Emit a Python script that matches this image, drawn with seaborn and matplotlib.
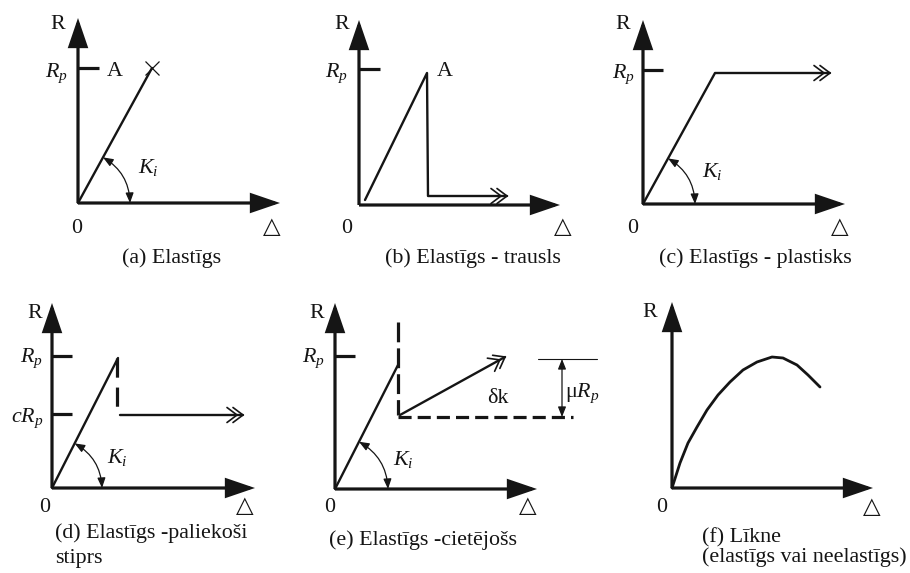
import numpy as np
import matplotlib
matplotlib.use("Agg")
import matplotlib.pyplot as plt
from matplotlib.patches import FancyArrowPatch
import seaborn as sns
import pandas as pd

sns.set_theme(style="white")
plt.rcParams["font.family"] = ["Liberation Serif", "DejaVu Sans"]
plt.rcParams["mathtext.fontset"] = "custom"
plt.rcParams["mathtext.rm"] = "Liberation Serif"
plt.rcParams["mathtext.it"] = "Liberation Serif:italic"

# ---------------- data (schematic units, origin = 0) ----------------
captions = ["(a) Elastīgs", "(b) Elastīgs - trausls", "(c) Elastīgs - plastisks",
            "(d) Elastīgs -paliekoši\nstiprs", "(e) Elastīgs -cietējošs",
            "(f) Līkne\n(elastīgs vai neelastīgs)"]

a_line_x = [0, 74]
a_line_y = [0, 135]
a_Rp = 135

b_line_x = [6, 68, 69, 148]
b_line_y = [5, 132, 9, 9]
b_Rp = 136

c_line_x = [0, 72, 187]
c_line_y = [0, 131, 131]
c_Rp = 134

d_line_x = [0, 66]
d_line_y = [0, 130]
d_drop_x = [65, 65]
d_drop_y = [130, 81]
d_res_x = [68, 191]
d_res_y = [73, 73]
d_Rp = 132
d_cRp = 74

e_line_x = [0, 63]
e_line_y = [0, 124]
e_vdash_x = [63, 63]
e_vdash_y = [167, 74]
e_hdash_x = [63, 238]
e_hdash_y = [72, 72]
e_hard_x = [65, 170]
e_hard_y = [74, 132]
e_Rp = 133
e_mu_top = 130
e_mu_bottom = 72

f_curve_x = [0, 8, 16, 25, 35, 46, 58, 71, 85, 100, 111, 125, 136, 148]
f_curve_y = [0, 25, 45, 61, 78, 93, 106, 118, 126, 131, 130, 123, 113, 101]

# ---------------- layout ----------------
W, H = 910, 573
fig = plt.figure(figsize=(W / 100, H / 100), dpi=100)
INK = "#151515"
AX_LW = 2.3
LN_LW = 1.7
TXT = 15.8

origins = [(78, 203), (359, 205), (643, 204), (52, 488), (335, 489), (672, 488)]
x_len = [202, 201, 202, 203, 202, 201]
y_len = [185, 185, 184, 185, 186, 186]


def make_ax(ox, oy):
    L, R, T, B = 80, 240, 200, 85
    ax = fig.add_axes([(ox - L) / W, (H - (oy + B)) / H, (L + R) / W, (T + B) / H])
    ax.set_xlim(-L, R)
    ax.set_ylim(-B, T)
    ax.set_axis_off()
    ax.patch.set_visible(False)
    return ax


def axes_arrows(ax, xl, yl):
    for tip in [(xl, 0), (0, yl)]:
        ar = FancyArrowPatch((0, 0), tip, arrowstyle="-|>,head_length=17,head_width=5.8",
                             mutation_scale=1, lw=AX_LW, color=INK,
                             shrinkA=0, shrinkB=0, joinstyle="miter", capstyle="butt")
        ar.set_clip_on(False)
        ax.add_patch(ar)


def line(ax, xs, ys, **kw):
    df = pd.DataFrame({"x": xs, "y": ys})
    kw.setdefault("lw", LN_LW)
    kw.setdefault("color", INK)
    sns.lineplot(data=df, x="x", y="y", ax=ax, sort=False, estimator=None,
                 legend=False, **kw)


def chevrons(ax, x0, y0, x1, y1):
    d = np.array([x1 - x0, y1 - y0], float)
    d /= np.linalg.norm(d)
    n = np.array([-d[1], d[0]])
    tip0 = np.array([x1, y1], float)
    for k in (0, 6):
        tip = tip0 - k * d
        p1 = tip - 10 * d + 7.5 * n
        p2 = tip - 10 * d - 7.5 * n
        ax.plot([p1[0], tip[0], p2[0]], [p1[1], tip[1], p2[1]], color=INK,
                lw=1.2, solid_joinstyle="miter", clip_on=False)


def tick(ax, yv, length=21):
    ax.plot([0, length], [yv, yv], color=INK, lw=AX_LW, solid_capstyle="butt", clip_on=False)


def ki_arc(ax, lx, ly, r):
    ang = np.arctan2(ly, lx)
    p_a = (r * np.cos(ang), r * np.sin(ang))
    p_b = (r, 0)
    ar = FancyArrowPatch(p_a, p_b, connectionstyle="arc3,rad=-0.27",
                         arrowstyle="<|-|>,head_length=6,head_width=2.4",
                         mutation_scale=1, lw=0.9, color=INK, shrinkA=0, shrinkB=0)
    ax.add_patch(ar)


def txt(ax, x, y, s, ha="center", va="baseline", size=TXT, **kw):
    ax.text(x, y, s, ha=ha, va=va, fontsize=size, color=INK, clip_on=False, **kw)


def delta(ax, x, y):
    ax.text(x, y, "△", ha="center", va="baseline", fontsize=16.5, color=INK,
            family=["DejaVu Sans"], clip_on=False)


axs = [make_ax(ox, oy) for ox, oy in origins]
for ax, xl, yl in zip(axs, x_len, y_len):
    axes_arrows(ax, xl, yl)

# (a)
ax = axs[0]
line(ax, a_line_x, a_line_y)
ax.plot(a_line_x[-1], a_line_y[-1], marker="x", ms=10, mew=0.9, color=INK, clip_on=False)
tick(ax, a_Rp)
ki_arc(ax, a_line_x[-1], a_line_y[-1], 52)
txt(ax, -20, 174, "R")
txt(ax, -10, 126, r"$R_p$", ha="right")
txt(ax, 29, 127, "A", ha="left")
txt(ax, 60, 30, r"$K_i$", ha="left")
txt(ax, -1, -30, "0")
delta(ax, 194, -30)
txt(ax, 94, -60, captions[0])

# (b)
ax = axs[1]
line(ax, b_line_x, b_line_y)
chevrons(ax, b_line_x[-2], b_line_y[-2], b_line_x[-1], b_line_y[-1])
tick(ax, b_Rp)
txt(ax, -17, 176, "R")
txt(ax, -11, 128, r"$R_p$", ha="right")
txt(ax, 78, 129, "A", ha="left")
txt(ax, -12, -28, "0")
delta(ax, 204, -28)
txt(ax, 114, -58, captions[1])

# (c)
ax = axs[2]
line(ax, c_line_x, c_line_y)
chevrons(ax, c_line_x[-2], c_line_y[-2], c_line_x[-1], c_line_y[-1])
tick(ax, c_Rp, 20)
ki_arc(ax, c_line_x[1], c_line_y[1], 52)
txt(ax, -20, 175, "R")
txt(ax, -8, 126, r"$R_p$", ha="right")
txt(ax, 59, 27, r"$K_i$", ha="left")
txt(ax, -10, -29, "0")
delta(ax, 197, -29)
txt(ax, 112, -59, captions[2])

# (d)
ax = axs[3]
line(ax, d_line_x, d_line_y)
line(ax, d_drop_x, d_drop_y, lw=AX_LW, linestyle=(0, (6.0, 3.1)))
line(ax, d_res_x, d_res_y)
chevrons(ax, d_res_x[0], d_res_y[0], d_res_x[1], d_res_y[1])
tick(ax, d_Rp, 20)
tick(ax, d_cRp, 20)
ki_arc(ax, d_line_x[1], d_line_y[1], 50)
txt(ax, -17, 170, "R")
txt(ax, -9, 126, r"$R_p$", ha="right")
txt(ax, -9, 66, r"$cR_p$", ha="right")
txt(ax, 55, 25, r"$K_i$", ha="left")
txt(ax, -7, -24, "0")
delta(ax, 193, -24)
txt(ax, 3, -50, captions[3].split("\n")[0], ha="left")
txt(ax, 3, -75, captions[3].split("\n")[1], ha="left")

# (e)
ax = axs[4]
line(ax, e_line_x, e_line_y)
line(ax, e_vdash_x, e_vdash_y, lw=AX_LW, linestyle=(0, (6.2, 1.9)))
line(ax, e_hdash_x, e_hdash_y, lw=AX_LW, linestyle=(0, (4.1, 1.9)))
line(ax, e_hard_x, e_hard_y)
chevrons(ax, e_hard_x[0], e_hard_y[0], e_hard_x[1], e_hard_y[1])
tick(ax, e_Rp, 20)
ki_arc(ax, e_line_x[1], e_line_y[1], 53)
ax.plot([203, 262], [e_mu_top, e_mu_top], color=INK, lw=0.8, clip_on=False)
mu = FancyArrowPatch((227, e_mu_bottom), (227, e_mu_top), arrowstyle="<|-|>,head_length=6,head_width=2.4",
                     mutation_scale=1, lw=0.9, color=INK, shrinkA=0, shrinkB=0)
ax.add_patch(mu)
txt(ax, -18, 171, "R")
txt(ax, -10, 127, r"$R_p$", ha="right")
txt(ax, 58, 24, r"$K_i$", ha="left")
txt(ax, 163, 86, "δk")
txt(ax, 230, 92, r"μ$R_p$", ha="left")
txt(ax, -5, -23, "0")
delta(ax, 193, -23)
txt(ax, 88, -56, captions[4])

# (f)
ax = axs[5]
line(ax, f_curve_x, f_curve_y, lw=2.0)
txt(ax, -22, 171, "R")
txt(ax, -10, -24, "0")
delta(ax, 200, -25)
txt(ax, 30, -54, captions[5].split("\n")[0], ha="left")
txt(ax, 30, -74, captions[5].split("\n")[1], ha="left")

fig.savefig("out.png", dpi=100)
